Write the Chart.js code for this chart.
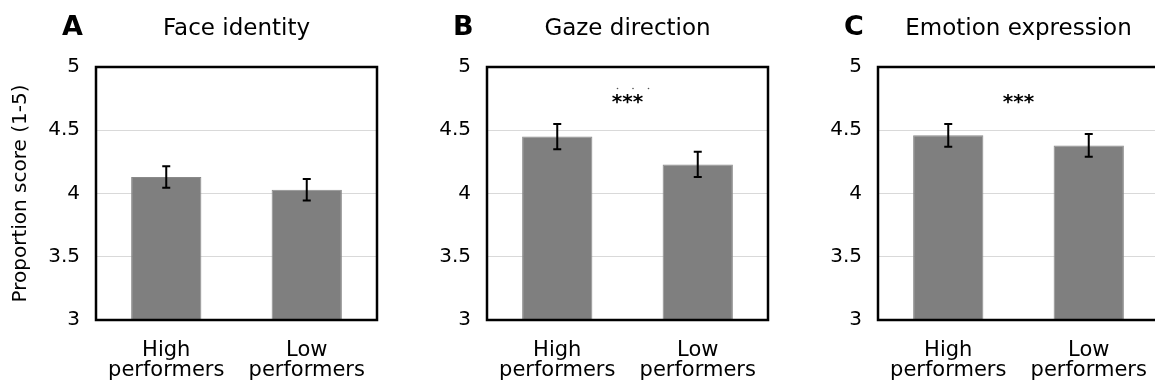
<!DOCTYPE html>
<html>
<head>
<meta charset="utf-8">
<script src="https://cdn.jsdelivr.net/npm/chart.js@4"></script>
<style>
  body { margin: 0; background: #fff; }
  #wrap { position: relative; width: 1155px; height: 387px; overflow: hidden; }
  canvas { position: absolute; top: 0; }
</style>
</head>
<body>
<div id="wrap">
  <canvas id="chartA" width="390" height="387" style="left:-1px"></canvas>
  <canvas id="chartB" width="390" height="387" style="left:390px"></canvas>
  <canvas id="chartC" width="390" height="387" style="left:781px"></canvas>
</div>
<script>
// data
const categories = [['High', 'performers'], ['Low', 'performers']];
const panelLetters = ['A', 'B', 'C'];
const panelTitles = ['Face identity', 'Gaze direction', 'Emotion expression'];
const faceMeans = [4.13, 4.03];
const faceErrors = [0.085, 0.085];
const gazeMeans = [4.45, 4.23];
const gazeErrors = [0.10, 0.10];
const emotionMeans = [4.46, 4.38];
const emotionErrors = [0.09, 0.09];
const yTicks = [3, 3.5, 4, 4.5, 5];
const significance = ['', '***', '***'];
const yTitle = 'Proportion score (1-5)';

const FONT = '"DejaVu Sans", sans-serif';

// error bars, frame, panel letter / title and the stars
const panelDecor = {
  id: 'panelDecor',
  afterDatasetsDraw(chart, args, opts) {
    const ctx = chart.ctx;
    const a = chart.chartArea;
    const x = chart.scales.x;
    const y = chart.scales.y;
    ctx.save();

    ctx.strokeStyle = '#000';
    ctx.lineWidth = 2;
    opts.means.forEach((m, i) => {
      const cx = x.getPixelForValue(i);
      const top = y.getPixelForValue(m + opts.errors[i]);
      const bot = y.getPixelForValue(m - opts.errors[i]);
      ctx.beginPath();
      ctx.moveTo(cx, top); ctx.lineTo(cx, bot);
      ctx.moveTo(cx - 4, top); ctx.lineTo(cx + 4, top);
      ctx.moveTo(cx - 4, bot); ctx.lineTo(cx + 4, bot);
      ctx.stroke();
    });

    ctx.lineWidth = 2.5;
    ctx.strokeRect(a.left, a.top, a.right - a.left, a.bottom - a.top);

    const mid = (a.left + a.right) / 2;
    ctx.fillStyle = '#000';
    ctx.textBaseline = 'alphabetic';
    ctx.textAlign = 'left';
    ctx.font = 'bold 27px ' + FONT;
    ctx.fillText(opts.letter, a.left - 34, 35);
    ctx.textAlign = 'center';
    ctx.font = '23px ' + FONT;
    ctx.fillText(opts.title, mid, 35);

    if (opts.stars) {
      ctx.font = 'bold 20px ' + FONT;
      ctx.fillText(opts.stars, mid, y.getPixelForValue(4.675));
    }
    if (opts.dots) {
      ctx.fillStyle = '#555';
      const dy = y.getPixelForValue(4.83);
      [-10, 5.5, 21].forEach(o => {
        ctx.beginPath();
        ctx.arc(mid + o, dy, 0.8, 0, Math.PI * 2);
        ctx.fill();
      });
    }
    ctx.restore();
  }
};

function makePanel(id, idx, means, errors) {
  new Chart(document.getElementById(id), {
    type: 'bar',
    data: {
      labels: categories,
      datasets: [{
        data: means,
        backgroundColor: '#7f7f7f',
        borderColor: '#8a8a8a',
        borderWidth: 1,
        barPercentage: 0.5,
        categoryPercentage: 1.0
      }]
    },
    options: {
      responsive: false,
      animation: false,
      devicePixelRatio: 1,
      layout: { padding: { top: 67, right: 12, bottom: 0, left: 0 } },
      plugins: {
        legend: { display: false },
        tooltip: { enabled: false },
        panelDecor: {
          means: means,
          errors: errors,
          letter: panelLetters[idx],
          title: panelTitles[idx],
          stars: significance[idx],
          dots: idx === 1
        }
      },
      scales: {
        x: {
          grid: { display: false },
          border: { display: false },
          ticks: {
            color: '#000',
            padding: 12,
            maxRotation: 0,
            font: { family: FONT, size: 21, lineHeight: 0.97 }
          },
          afterFit(scale) { scale.height = 67; }
        },
        y: {
          min: 3,
          max: 5,
          afterBuildTicks(scale) { scale.ticks = yTicks.map(v => ({ value: v })); },
          grid: { color: '#d9d9d9', lineWidth: 1, drawTicks: false },
          border: { display: false },
          ticks: {
            color: '#000',
            padding: 16,
            font: { family: FONT, size: 20 },
            callback: v => String(v)
          },
          title: {
            display: idx === 0,
            text: yTitle,
            color: '#000',
            padding: { top: 10, bottom: 0 },
            font: { family: FONT, size: 20 }
          },
          afterFit(scale) { scale.width = 97; }
        }
      }
    },
    plugins: [panelDecor]
  });
}

makePanel('chartA', 0, faceMeans, faceErrors);
makePanel('chartB', 1, gazeMeans, gazeErrors);
makePanel('chartC', 2, emotionMeans, emotionErrors);
</script>
</body>
</html>
